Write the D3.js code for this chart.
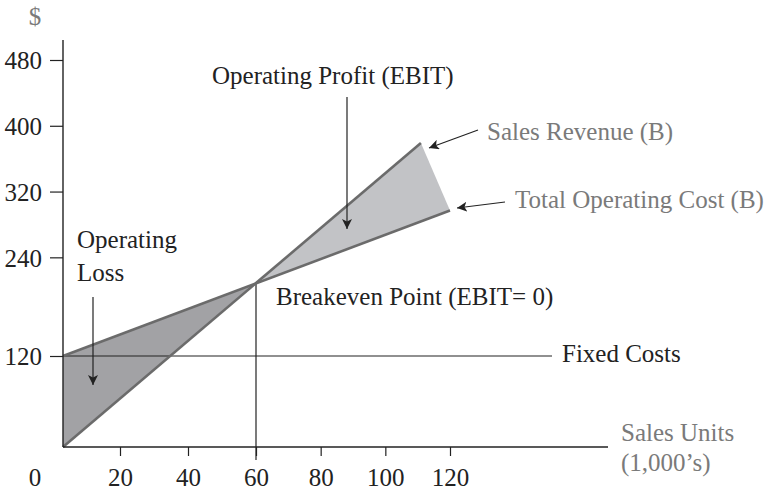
<!DOCTYPE html>
<html>
<head>
<meta charset="utf-8">
<script src="https://cdn.jsdelivr.net/npm/d3@7"></script>
<style>
  html, body { margin: 0; padding: 0; background: #fff; }
  svg text { font-family: 'Liberation Serif', 'DejaVu Serif', serif; }
</style>
</head>
<body>
<div id="chart"></div>
<script>
// break-even chart data (units in 1,000's, values in $)
const xTicks = [20, 40, 60, 80, 100, 120]
const yTicks = [120, 240, 320, 400, 480]
const fixedCost = 120
const breakevenUnits = 60
const revenueLine = [[0, 0], [111, 379]]
const costLine = [[0, 120], [120, 297]]
const breakevenValue = 208.5

const width = 772
const height = 493
const fontSize = '25px'

const svg = d3.select('#chart')
  .append('svg')
  .attr('width', width)
  .attr('height', height)

// polylinear scales to follow the hand-drawn tick spacing
const x = d3.scaleLinear()
  .domain([0, 20, 60, 120])
  .range([63, 120, 256, 450])

const y = d3.scaleLinear()
  .domain([0, 120, 480])
  .range([447, 356, 60])

const ink = '#222'
const lineGray = '#6b6b6b'
const textGray = '#7a7a7a'

// arrow marker
svg.append('defs')
  .append('marker')
  .attr('id', 'arrow')
  .attr('viewBox', '0 0 10 10')
  .attr('refX', 10)
  .attr('refY', 5)
  .attr('markerWidth', 10)
  .attr('markerHeight', 10)
  .attr('markerUnits', 'userSpaceOnUse')
  .attr('orient', 'auto')
  .append('path')
  .attr('d', 'M0,0 L10,5 L0,10 L2.5,5 Z')
  .attr('fill', ink)

// shaded regions
const bePoint = [breakevenUnits, breakevenValue]
const lossArea = [revenueLine[0], costLine[0], bePoint]
const profitArea = [bePoint, revenueLine[1], costLine[1]]
const poly = d3.line().x(d => x(d[0])).y(d => y(d[1]))

svg.append('path')
  .attr('d', poly(lossArea) + 'Z')
  .attr('fill', '#a2a2a5')

svg.append('path')
  .attr('d', poly(profitArea) + 'Z')
  .attr('fill', '#c2c3c6')

// fixed costs line
svg.append('line')
  .attr('x1', x(0)).attr('x2', 552)
  .attr('y1', y(fixedCost)).attr('y2', y(fixedCost))
  .attr('stroke', ink).attr('stroke-width', 1.2)

// breakeven vertical
svg.append('line')
  .attr('x1', x(breakevenUnits)).attr('x2', x(breakevenUnits))
  .attr('y1', y(breakevenValue)).attr('y2', 460)
  .attr('stroke', ink).attr('stroke-width', 1.2)

// revenue and cost lines
;[revenueLine, costLine].forEach(d => {
  svg.append('path')
    .attr('d', poly(d))
    .attr('fill', 'none')
    .attr('stroke', lineGray)
    .attr('stroke-width', 2.6)
})

// y axis
const yAxis = svg.append('g')
  .attr('transform', `translate(${x(0)},0)`)
  .call(d3.axisLeft(y).tickValues(yTicks).tickSize(13).tickPadding(8))
yAxis.select('.domain').remove()
yAxis.append('line')
  .attr('y1', 40).attr('y2', y(0))
  .attr('stroke', ink).attr('stroke-width', 1.4)
yAxis.selectAll('.tick line').attr('stroke', ink).attr('stroke-width', 1.2)
yAxis.selectAll('.tick text')
  .attr('fill', ink)
  .style('font-size', fontSize)
  .attr('dy', '0.35em')

// x axis
const xAxis = svg.append('g')
  .attr('transform', `translate(0,${y(0)})`)
  .call(d3.axisBottom(x).tickValues(xTicks).tickSize(9))
xAxis.select('.domain').remove()
xAxis.append('line')
  .attr('x1', x(0)).attr('x2', 608)
  .attr('stroke', ink).attr('stroke-width', 1.4)
xAxis.selectAll('.tick line').attr('stroke', ink).attr('stroke-width', 1.2)
xAxis.selectAll('.tick text')
  .attr('fill', ink)
  .attr('y', 39)
  .attr('dy', 0)
  .style('font-size', fontSize)

// origin label
svg.append('text')
  .attr('x', 35).attr('y', 486)
  .attr('text-anchor', 'middle')
  .attr('fill', ink)
  .style('font-size', fontSize)
  .text('0')

// axis titles
svg.append('text')
  .attr('x', 35).attr('y', 25)
  .attr('text-anchor', 'middle')
  .attr('fill', textGray)
  .style('font-size', fontSize)
  .text('$')

svg.append('text')
  .attr('x', 621).attr('y', 441)
  .attr('fill', textGray)
  .style('font-size', fontSize)
  .text('Sales Units')

svg.append('text')
  .attr('x', 621).attr('y', 471)
  .attr('fill', textGray)
  .style('font-size', fontSize)
  .text('(1,000\u2019s)')

// annotations
const labels = [
  { text: 'Operating Profit (EBIT)', x: 212, y: 84, fill: ink },
  { text: 'Sales Revenue (B)', x: 487, y: 140, fill: textGray },
  { text: 'Total Operating Cost (B)', x: 515, y: 208, fill: textGray },
  { text: 'Operating', x: 77, y: 248, fill: ink },
  { text: 'Loss', x: 77, y: 281, fill: ink },
  { text: 'Breakeven Point (EBIT= 0)', x: 276, y: 305, fill: ink },
  { text: 'Fixed Costs', x: 562, y: 362, fill: ink },
]

svg.selectAll('.note')
  .data(labels)
  .enter()
  .append('text')
  .attr('class', 'note')
  .attr('x', d => d.x)
  .attr('y', d => d.y)
  .attr('fill', d => d.fill)
  .style('font-size', fontSize)
  .text(d => d.text)

const arrows = [
  { x1: 347, y1: 97, x2: 347, y2: 229 },
  { x1: 478, y1: 130, x2: 429, y2: 148 },
  { x1: 505, y1: 202, x2: 457, y2: 208 },
  { x1: 93, y1: 297, x2: 93, y2: 385 },
]

svg.selectAll('.arrow')
  .data(arrows)
  .enter()
  .append('line')
  .attr('class', 'arrow')
  .attr('x1', d => d.x1).attr('y1', d => d.y1)
  .attr('x2', d => d.x2).attr('y2', d => d.y2)
  .attr('stroke', ink)
  .attr('stroke-width', 1.2)
  .attr('marker-end', 'url(#arrow)')
</script>
</body>
</html>
